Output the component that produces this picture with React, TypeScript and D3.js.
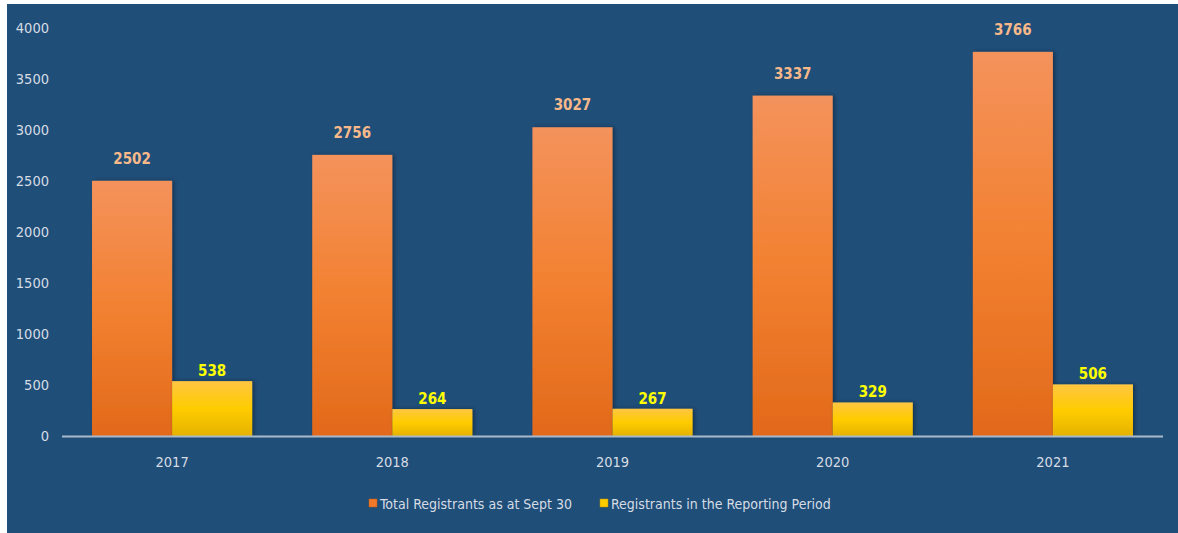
import React from "react";
import * as d3 from "d3";

const years = ["2017", "2018", "2019", "2020", "2021"];
const totalRegistrants = [2502, 2756, 3027, 3337, 3766];
const periodRegistrants = [538, 264, 267, 329, 506];
const seriesNames = ["Total Registrants as at Sept 30", "Registrants in the Reporting Period"];
const yTicks = [0, 500, 1000, 1500, 2000, 2500, 3000, 3500, 4000];

const W = 1178;
const H = 533;
const FONT = "'Liberation Sans Narrow', 'DejaVu Sans Condensed', 'Open Sans', sans-serif";

export default function App() {
  const x0 = d3.scaleBand<string>().domain(years).range([62, 1163]).padding(0);
  const x1 = d3
    .scaleBand<string>()
    .domain(["total", "period"])
    .range([0, x0.bandwidth()])
    .paddingInner(0)
    .paddingOuter(0.375);
  const y = d3.scaleLinear().domain([0, 4000]).range([436, 28]);

  const data = years.map((yr, i) => ({ yr, total: totalRegistrants[i], period: periodRegistrants[i] }));

  return (
    <svg
      width={W}
      height={H}
      style={{ position: "absolute", left: 0, top: 0, display: "block", background: "#fff" }}
    >
      <defs>
        <linearGradient id="gOrange" x1="0" y1="0" x2="0" y2="1">
          <stop offset="0" stopColor="#F4925C" />
          <stop offset="0.5" stopColor="#F28131" />
          <stop offset="1" stopColor="#E2691A" />
        </linearGradient>
        <linearGradient id="gYellow" x1="0" y1="0" x2="0" y2="1">
          <stop offset="0" stopColor="#FFC642" />
          <stop offset="0.5" stopColor="#FFCC00" />
          <stop offset="1" stopColor="#E5B200" />
        </linearGradient>
        <filter id="shadow" x="-20%" y="-20%" width="140%" height="140%">
          <feDropShadow dx="2" dy="0" stdDeviation="2" floodColor="#000" floodOpacity="0.35" />
        </filter>
      </defs>
      <rect x={7} y={4} width={W - 7} height={H - 4} fill="#1F4E79" />

      {yTicks.map((t) => (
        <text
          key={t}
          x={49}
          y={y(t)}
          dy="0.35em"
          textAnchor="end"
          fill="#D6DCE4"
          fontSize={14.5}
          fontFamily={FONT}
        >
          {t}
        </text>
      ))}

      {data.map((d) => {
        const gx = x0(d.yr)!;
        const xt = gx + x1("total")!;
        const xp = gx + x1("period")!;
        const bw = x1.bandwidth();
        return (
          <g key={d.yr}>
            <rect
              x={xt}
              y={y(d.total)}
              width={bw}
              height={y(0) - y(d.total)}
              fill="url(#gOrange)"
              filter="url(#shadow)"
            />
            <rect
              x={xp}
              y={y(d.period)}
              width={bw}
              height={y(0) - y(d.period)}
              fill="url(#gYellow)"
              filter="url(#shadow)"
            />
            <text
              x={xt + bw / 2}
              y={y(d.total) - 17}
              textAnchor="middle"
              fill="#F8B98A"
              fontWeight="bold"
              fontSize={15}
              fontFamily={FONT}
            >
              {d.total}
            </text>
            <text
              x={xp + bw / 2}
              y={y(d.period) - 5}
              textAnchor="middle"
              fill="#FFFF00"
              fontWeight="bold"
              fontSize={15}
              fontFamily={FONT}
            >
              {d.period}
            </text>
            <text
              x={gx + x0.bandwidth() / 2}
              y={462}
              dy="0.35em"
              textAnchor="middle"
              fill="#D6DCE4"
              fontSize={14.5}
              fontFamily={FONT}
            >
              {d.yr}
            </text>
          </g>
        );
      })}

      <line x1={62} x2={1163} y1={y(0) + 0.5} y2={y(0) + 0.5} stroke="#A9B9CC" strokeWidth={2} />

      <g fontFamily={FONT} fontSize={14} fill="#D6DCE4">
        <rect x={369} y={499} width={8} height={8} fill="#F0782A" stroke="#C85A10" strokeWidth={0.5} />
        <text x={380} y={504} dy="0.35em">{seriesNames[0]}</text>
        <rect x={600} y={499} width={8} height={8} fill="#FFCC00" stroke="#B89000" strokeWidth={0.5} />
        <text x={611} y={504} dy="0.35em">{seriesNames[1]}</text>
      </g>
    </svg>
  );
}
